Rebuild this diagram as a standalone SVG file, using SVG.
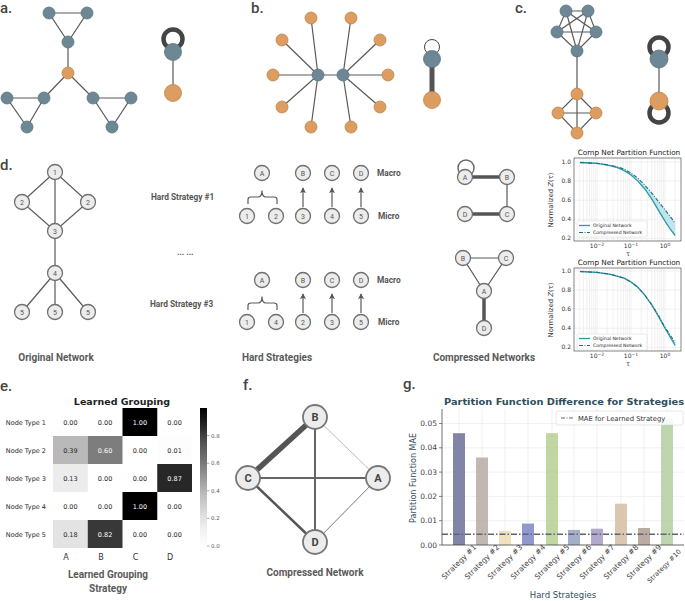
<svg xmlns="http://www.w3.org/2000/svg" width="685" height="601" viewBox="0 0 685 601">
<style>
.lbl{font-family:Roboto,"Liberation Sans",sans-serif;font-size:15px;font-weight:500;fill:#444}
.e{stroke:#5a5a5a;stroke-width:1.2;fill:none}
.bn{fill:#6d8894;stroke:#5a7480;stroke-width:0.8}
.on{fill:#dd9c60;stroke:#c0834a;stroke-width:0.8}
.gn{fill:#ececec;stroke:#707070;stroke-width:1.3}
.gt{font-family:Roboto,"Liberation Sans",sans-serif;font-size:7px;fill:#555;text-anchor:middle}
.cap{font-family:Roboto,"Liberation Sans",sans-serif;font-size:10px;font-weight:bold;fill:#5a5a5a;text-anchor:middle}
.hs{font-family:Roboto,"Liberation Sans",sans-serif;font-size:8.3px;font-weight:bold;fill:#555}
.tk{font-family:"DejaVu Sans",sans-serif;font-size:6px;fill:#333}
.grid{stroke:#e2e2e2;stroke-width:0.5}
.hm{font-family:"DejaVu Sans",sans-serif;font-size:6.5px;text-anchor:middle}
.gtk{font-family:"DejaVu Sans",sans-serif;font-size:7.5px;fill:#444}
</style>
<defs>
<marker id="ah" viewBox="0 0 8 8" refX="7" refY="4" markerWidth="6" markerHeight="6" markerUnits="userSpaceOnUse" orient="auto"><path d="M0,0 L8,4 L0,8 L2,4 z" fill="#555"/></marker>
<linearGradient id="cb" x1="0" y1="0" x2="0" y2="1">
<stop offset="0" stop-color="#000"/><stop offset="0.125" stop-color="#252525"/><stop offset="0.25" stop-color="#525252"/><stop offset="0.375" stop-color="#737373"/><stop offset="0.5" stop-color="#969696"/><stop offset="0.625" stop-color="#bdbdbd"/><stop offset="0.75" stop-color="#d9d9d9"/><stop offset="0.875" stop-color="#f0f0f0"/><stop offset="1" stop-color="#fff"/>
</linearGradient>
<clipPath id="c1"><rect x="574" y="158" width="107" height="83"/></clipPath>
<clipPath id="c2"><rect x="574" y="268" width="107" height="83"/></clipPath>
</defs>
<rect width="685" height="601" fill="#fff"/>

<!-- panel labels -->
<text class="lbl" x="0" y="13">a.</text>
<text class="lbl" x="251" y="13">b.</text>
<text class="lbl" x="515" y="13">c.</text>
<text class="lbl" x="0" y="170">d.</text>
<text class="lbl" x="0" y="391">e.</text>
<text class="lbl" x="243" y="390">f.</text>
<text class="lbl" x="403" y="389">g.</text>

<!-- Panel a -->
<g id="connectors-a">
<path class="e" d="M49,13 L87,13 L68,42 Z M68,42 L68,73 M68,73 L44,98 M68,73 L93,98 M7,98 L44,98 L27,127 Z M93,98 L131,98 L112,127 Z"/>
<line x1="173" y1="52" x2="173" y2="93" stroke="#5a5a5a" stroke-width="1.2"/>
<circle cx="173" cy="39" r="9.5" fill="none" stroke="#444" stroke-width="4.5"/>
</g>
<g id="a-nodes">
<circle class="bn" cx="49" cy="13" r="6"/><circle class="bn" cx="87" cy="13" r="6"/><circle class="bn" cx="68" cy="42" r="6"/>
<circle class="on" cx="68" cy="73" r="6"/>
<circle class="bn" cx="7" cy="98" r="6"/><circle class="bn" cx="44" cy="98" r="6"/><circle class="bn" cx="27" cy="127" r="6"/>
<circle class="bn" cx="93" cy="98" r="6"/><circle class="bn" cx="131" cy="98" r="6"/><circle class="bn" cx="112" cy="127" r="6"/>
<circle class="bn" cx="173" cy="52" r="8.5"/><circle class="on" cx="173" cy="93" r="8.5"/>
</g>

<!-- Panel b -->
<g id="connectors-b">
<path class="e" d="M318,75 L343,75 M318,75 L311,18 M318,75 L282,40 M318,75 L273,75 M318,75 L282,107 M318,75 L311,127 M343,75 L351,18 M343,75 L380,40 M343,75 L388,75 M343,75 L380,107 M343,75 L351,127"/>
<line x1="432" y1="59" x2="432" y2="100" stroke="#555" stroke-width="5"/>
<circle cx="432" cy="47" r="7.5" fill="none" stroke="#444" stroke-width="1"/>
</g>
<g id="b-nodes">
<circle class="bn" cx="318" cy="75" r="6"/><circle class="bn" cx="343" cy="75" r="6"/>
<circle class="on" cx="311" cy="18" r="6"/><circle class="on" cx="351" cy="18" r="6"/>
<circle class="on" cx="282" cy="40" r="6"/><circle class="on" cx="380" cy="40" r="6"/>
<circle class="on" cx="273" cy="75" r="6"/><circle class="on" cx="388" cy="75" r="6"/>
<circle class="on" cx="282" cy="107" r="6"/><circle class="on" cx="380" cy="107" r="6"/>
<circle class="on" cx="311" cy="127" r="6"/><circle class="on" cx="351" cy="127" r="6"/>
<circle class="bn" cx="432" cy="59" r="8.5"/><circle class="on" cx="432" cy="100" r="8.5"/>
</g>

<!-- Panel c -->
<g id="connectors-c">
<path class="e" d="M566,11 L588,11 L596,32 L577,51 L557,32 Z M566,11 L596,32 L557,32 L588,11 L577,51 L566,11 M577,51 L577,94 M577,94 L596,113 L577,133 L558,113 Z M577,94 L577,133 M558,113 L596,113"/>
<line x1="659" y1="59" x2="659" y2="101" stroke="#5a5a5a" stroke-width="1.2"/>
<circle cx="659" cy="47" r="9.5" fill="none" stroke="#444" stroke-width="4.5"/>
<circle cx="659" cy="113" r="9.5" fill="none" stroke="#444" stroke-width="4.5"/>
</g>
<g id="c-nodes">
<circle class="bn" cx="566" cy="11" r="6"/><circle class="bn" cx="588" cy="11" r="6"/><circle class="bn" cx="557" cy="32" r="6"/><circle class="bn" cx="596" cy="32" r="6"/><circle class="bn" cx="577" cy="51" r="6"/>
<circle class="on" cx="577" cy="94" r="6"/><circle class="on" cx="558" cy="113" r="6"/><circle class="on" cx="596" cy="113" r="6"/><circle class="on" cx="577" cy="133" r="6"/>
<circle class="bn" cx="659" cy="59" r="9"/><circle class="on" cx="659" cy="101" r="9"/>
</g>

<!-- Panel d -->
<g id="connectors-d">
<path class="e" d="M55,172 L22,202 L55,231 L88,202 Z M55,172 L55,231 L55,273 M55,273 L22,312 M55,273 L55,312 M55,273 L88,312"/>
<path class="e" d="M248,204 V199.5 Q248,197 251,197 H258 Q262,197 262,190.5 Q262,197 266,197 H274 Q277,197 277,199.5 V204"/>
<path class="e" d="M248,310 V305.5 Q248,303 251,303 H258 Q262,303 262,296.5 Q262,303 266,303 H274 Q277,303 277,305.5 V310"/>
<line class="e" x1="303" y1="207" x2="303" y2="188" marker-end="url(#ah)"/>
<line class="e" x1="332" y1="207" x2="332" y2="188" marker-end="url(#ah)"/>
<line class="e" x1="361" y1="207" x2="361" y2="188" marker-end="url(#ah)"/>
<line class="e" x1="303" y1="313" x2="303" y2="294" marker-end="url(#ah)"/>
<line class="e" x1="332" y1="313" x2="332" y2="294" marker-end="url(#ah)"/>
<line class="e" x1="361" y1="313" x2="361" y2="294" marker-end="url(#ah)"/>
<path d="M465,177 H507 M465,214 H507" stroke="#555" stroke-width="3.5"/>
<path class="e" d="M507,177 V214" stroke-width="1.8"/>
<circle cx="466" cy="168" r="8" fill="none" stroke="#666" stroke-width="1.4"/>
<path class="e" d="M463,258 H506 L484,291 Z" stroke-width="1.5"/>
<line x1="484" y1="291" x2="484" y2="328" stroke="#555" stroke-width="3.5"/>
</g>
<g id="d-original">
<circle class="gn" cx="55" cy="172" r="7.5"/><text class="gt" x="55" y="174.5">1</text>
<circle class="gn" cx="22" cy="202" r="7.5"/><text class="gt" x="22" y="204.5">2</text>
<circle class="gn" cx="88" cy="202" r="7.5"/><text class="gt" x="88" y="204.5">2</text>
<circle class="gn" cx="55" cy="231" r="7.5"/><text class="gt" x="55" y="233.5">3</text>
<circle class="gn" cx="55" cy="273" r="7.5"/><text class="gt" x="55" y="275.5">4</text>
<circle class="gn" cx="22" cy="312" r="7.5"/><text class="gt" x="22" y="314.5">5</text>
<circle class="gn" cx="55" cy="312" r="7.5"/><text class="gt" x="55" y="314.5">5</text>
<circle class="gn" cx="88" cy="312" r="7.5"/><text class="gt" x="88" y="314.5">5</text>
<text class="cap" x="56" y="361">Original Network</text>
</g>
<g id="d-strategies">
<text class="hs" x="151" y="200">Hard Strategy #1</text>
<text class="hs" x="177" y="255" font-size="6">... ...</text>
<text class="hs" x="150" y="307">Hard Strategy #3</text>
<circle class="gn" cx="262" cy="173" r="7.5"/><text class="gt" x="262" y="175.5">A</text>
<circle class="gn" cx="303" cy="173" r="7.5"/><text class="gt" x="303" y="175.5">B</text>
<circle class="gn" cx="332" cy="173" r="7.5"/><text class="gt" x="332" y="175.5">C</text>
<circle class="gn" cx="361" cy="173" r="7.5"/><text class="gt" x="361" y="175.5">D</text>
<text class="hs" x="377" y="176">Macro</text>
<circle class="gn" cx="247" cy="216" r="7.5"/><text class="gt" x="247" y="218.5">1</text>
<circle class="gn" cx="276" cy="216" r="7.5"/><text class="gt" x="276" y="218.5">2</text>
<circle class="gn" cx="303" cy="216" r="7.5"/><text class="gt" x="303" y="218.5">3</text>
<circle class="gn" cx="332" cy="216" r="7.5"/><text class="gt" x="332" y="218.5">4</text>
<circle class="gn" cx="361" cy="216" r="7.5"/><text class="gt" x="361" y="218.5">5</text>
<text class="hs" x="378" y="219">Micro</text>
<circle class="gn" cx="262" cy="280" r="7.5"/><text class="gt" x="262" y="282.5">A</text>
<circle class="gn" cx="303" cy="280" r="7.5"/><text class="gt" x="303" y="282.5">B</text>
<circle class="gn" cx="332" cy="280" r="7.5"/><text class="gt" x="332" y="282.5">C</text>
<circle class="gn" cx="361" cy="280" r="7.5"/><text class="gt" x="361" y="282.5">D</text>
<text class="hs" x="377" y="283">Macro</text>
<circle class="gn" cx="247" cy="322" r="7.5"/><text class="gt" x="247" y="324.5">1</text>
<circle class="gn" cx="276" cy="322" r="7.5"/><text class="gt" x="276" y="324.5">4</text>
<circle class="gn" cx="303" cy="322" r="7.5"/><text class="gt" x="303" y="324.5">2</text>
<circle class="gn" cx="332" cy="322" r="7.5"/><text class="gt" x="332" y="324.5">3</text>
<circle class="gn" cx="361" cy="322" r="7.5"/><text class="gt" x="361" y="324.5">5</text>
<text class="hs" x="378" y="325">Micro</text>
<text class="cap" x="277" y="361">Hard Strategies</text>
</g>
<g id="d-compressed">
<circle class="gn" cx="465" cy="177" r="7.5"/><text class="gt" x="465" y="179.5">A</text>
<circle class="gn" cx="507" cy="177" r="7.5"/><text class="gt" x="507" y="179.5">B</text>
<circle class="gn" cx="465" cy="214" r="7.5"/><text class="gt" x="465" y="216.5">D</text>
<circle class="gn" cx="507" cy="214" r="7.5"/><text class="gt" x="507" y="216.5">C</text>
<circle class="gn" cx="463" cy="258" r="7.5"/><text class="gt" x="463" y="260.5">B</text>
<circle class="gn" cx="506" cy="258" r="7.5"/><text class="gt" x="506" y="260.5">C</text>
<circle class="gn" cx="484" cy="291" r="7.5"/><text class="gt" x="484" y="293.5">A</text>
<circle class="gn" cx="484" cy="328" r="7.5"/><text class="gt" x="484" y="330.5">D</text>
<text class="cap" x="484" y="361">Compressed Networks</text>
</g>

<!-- Plot 1 -->
<g id="plot1">
<text x="629" y="155" font-family="DejaVu Sans,sans-serif" font-size="7.3" fill="#222" text-anchor="middle">Comp Net Partition Function</text>
<g clip-path="url(#c1)">
<path class="grid" d="M579.2,158V241M583.5,158V241M586.8,158V241M589.5,158V241M591.7,158V241M593.7,158V241M595.4,158V241M597,158V241M607.2,158V241M613.2,158V241M617.5,158V241M620.8,158V241M623.5,158V241M625.7,158V241M627.7,158V241M629.4,158V241M631,158V241M641.2,158V241M647.2,158V241M651.5,158V241M654.8,158V241M657.5,158V241M659.7,158V241M661.7,158V241M663.4,158V241M665,158V241M675.2,158V241M574,162H681M574,181.1H681M574,200.2H681M574,219.3H681M574,238.4H681"/>
<path d="M580,162.5 L597,163.4 L610.6,165.3 L617.4,166.8 L624.2,169.2 L631,173 L637.8,178.2 L644.6,184.9 L651.4,192.6 L658.2,201.2 L665,209.8 L670.1,216.4 L675.2,223.1 L675.2,235.5 L670.1,228.9 L665,221.2 L658.2,209.8 L651.4,198.3 L644.6,188.7 L637.8,181.1 L631,174.9 L624.2,170.6 L617.4,167.7 L610.6,165.8 L603.8,164.4 L597,163.4 Z" fill="#a6dce6" opacity="0.7"/>
<polyline fill="none" stroke="#2a9aa8" stroke-width="1.3" points="580,162.5 590.2,163 597,163.4 603.8,164.4 610.6,165.8 617.4,167.7 624.2,170.6 631,174.9 637.8,181.1 644.6,188.7 651.4,198.3 658.2,209.8 665,221.2 670.1,228.9 675.2,235.5"/>
<polyline fill="none" stroke="#1d6f7c" stroke-width="1.1" stroke-dasharray="4,1.5,1,1.5" points="580,162.5 597,163.4 610.6,165.3 617.4,166.8 624.2,169.2 631,173 637.8,178.2 644.6,184.9 651.4,192.6 658.2,201.2 665,209.8 670.1,216.4 675.2,223.1"/>
</g>
<rect x="574" y="158" width="107" height="83" fill="none" stroke="#333" stroke-width="0.6"/>
<g class="tk" text-anchor="end">
<text x="571" y="164">1.0</text><text x="571" y="183.1">0.8</text><text x="571" y="202.2">0.6</text><text x="571" y="221.3">0.4</text><text x="571" y="240.4">0.2</text>
</g>
<g class="tk" text-anchor="middle">
<text x="597" y="248">10<tspan font-size="4.5" dy="-2.5">−2</tspan></text>
<text x="631" y="248">10<tspan font-size="4.5" dy="-2.5">−1</tspan></text>
<text x="665" y="248">10<tspan font-size="4.5" dy="-2.5">0</tspan></text>
<text x="628" y="256" font-size="6.5">τ</text>
</g>
<text transform="translate(553,200) rotate(-90)" font-family="DejaVu Sans,sans-serif" font-size="6.8" fill="#333" text-anchor="middle">Normalized <tspan font-style="italic">Z</tspan>(τ)</text>
<rect x="577" y="221" width="70" height="16" fill="#fff" fill-opacity="0.85" stroke="#ccc" stroke-width="0.4" rx="1"/>
<line x1="579" y1="225.5" x2="590" y2="225.5" stroke="#2a9aa8" stroke-width="1.3"/>
<line x1="579" y1="232.5" x2="590" y2="232.5" stroke="#1d6f7c" stroke-width="1.1" stroke-dasharray="4,1.5,1,1.5"/>
<text x="593" y="227" font-family="DejaVu Sans,sans-serif" font-size="4.6" fill="#222">Original Network</text>
<text x="593" y="234" font-family="DejaVu Sans,sans-serif" font-size="4.6" fill="#222">Compressed Network</text>
</g>

<!-- Plot 2 -->
<g id="plot2">
<text x="629" y="265" font-family="DejaVu Sans,sans-serif" font-size="7.3" fill="#222" text-anchor="middle">Comp Net Partition Function</text>
<g clip-path="url(#c2)">
<path class="grid" d="M579.2,268V351M583.5,268V351M586.8,268V351M589.5,268V351M591.7,268V351M593.7,268V351M595.4,268V351M597,268V351M607.2,268V351M613.2,268V351M617.5,268V351M620.8,268V351M623.5,268V351M625.7,268V351M627.7,268V351M629.4,268V351M631,268V351M641.2,268V351M647.2,268V351M651.5,268V351M654.8,268V351M657.5,268V351M659.7,268V351M661.7,268V351M663.4,268V351M665,268V351M675.2,268V351M574,271H681M574,290.1H681M574,309.2H681M574,328.3H681M574,347.4H681"/>
<path d="M658.2,315 L665,327.3 L670.1,335 L675.2,342.6 L675.2,345.5 L670.1,336.9 L665,328.3 L658.2,315.9 Z" fill="#a6dce6" opacity="0.7"/>
<polyline fill="none" stroke="#2a9aa8" stroke-width="1.3" points="580,271.5 597,272.4 610.6,274.3 624.2,278.2 631,282 637.8,287.2 644.6,294.9 651.4,304.4 658.2,315.9 665,328.3 670.1,336.9 675.2,345.5"/>
<polyline fill="none" stroke="#1d6f7c" stroke-width="1.1" stroke-dasharray="4,1.5,1,1.5" points="580,271.5 597,272.4 610.6,274.3 624.2,278.2 631,282 637.8,287.2 644.6,294.9 651.4,304.2 658.2,315 665,327.3 670.1,335 675.2,342.6"/>
</g>
<rect x="574" y="268" width="107" height="83" fill="none" stroke="#333" stroke-width="0.6"/>
<g class="tk" text-anchor="end">
<text x="571" y="273">1.0</text><text x="571" y="292.1">0.8</text><text x="571" y="311.2">0.6</text><text x="571" y="330.3">0.4</text><text x="571" y="349.4">0.2</text>
</g>
<g class="tk" text-anchor="middle">
<text x="597" y="358">10<tspan font-size="4.5" dy="-2.5">−2</tspan></text>
<text x="631" y="358">10<tspan font-size="4.5" dy="-2.5">−1</tspan></text>
<text x="665" y="358">10<tspan font-size="4.5" dy="-2.5">0</tspan></text>
<text x="628" y="366" font-size="6.5">τ</text>
</g>
<text transform="translate(553,310) rotate(-90)" font-family="DejaVu Sans,sans-serif" font-size="6.8" fill="#333" text-anchor="middle">Normalized <tspan font-style="italic">Z</tspan>(τ)</text>
<rect x="577" y="334" width="70" height="16" fill="#fff" fill-opacity="0.85" stroke="#ccc" stroke-width="0.4" rx="1"/>
<line x1="579" y1="338.5" x2="590" y2="338.5" stroke="#2a9aa8" stroke-width="1.3"/>
<line x1="579" y1="345.5" x2="590" y2="345.5" stroke="#1d6f7c" stroke-width="1.1" stroke-dasharray="4,1.5,1,1.5"/>
<text x="593" y="340" font-family="DejaVu Sans,sans-serif" font-size="4.6" fill="#222">Original Network</text>
<text x="593" y="347" font-family="DejaVu Sans,sans-serif" font-size="4.6" fill="#222">Compressed Network</text>
</g>

<!-- Panel e heatmap -->
<g id="heatmap">
<text x="122" y="405" font-family="DejaVu Sans,sans-serif" font-size="9.5" font-weight="bold" fill="#222" text-anchor="middle">Learned Grouping</text>
<rect x="53" y="408" width="139" height="140" fill="#fff"/>
<rect x="122.5" y="408" width="34.75" height="28" fill="#000"/>
<rect x="53" y="436" width="34.75" height="28" fill="#b9b9b9"/>
<rect x="87.75" y="436" width="34.75" height="28" fill="#7d7d7d"/>
<rect x="157.25" y="436" width="34.75" height="28" fill="#fdfdfd"/>
<rect x="53" y="464" width="34.75" height="28" fill="#ececec"/>
<rect x="157.25" y="464" width="34.75" height="28" fill="#272727"/>
<rect x="122.5" y="492" width="34.75" height="28" fill="#000"/>
<rect x="53" y="520" width="34.75" height="28" fill="#e3e3e3"/>
<rect x="87.75" y="520" width="34.75" height="28" fill="#383838"/>
<g class="hm" fill="#262626">
<text x="70.4" y="424.5">0.00</text><text x="105.1" y="424.5">0.00</text><text x="139.9" y="424.5" fill="#fff">1.00</text><text x="174.6" y="424.5">0.00</text>
<text x="70.4" y="452.5">0.39</text><text x="105.1" y="452.5" fill="#fff">0.60</text><text x="139.9" y="452.5">0.00</text><text x="174.6" y="452.5">0.01</text>
<text x="70.4" y="480.5">0.13</text><text x="105.1" y="480.5">0.00</text><text x="139.9" y="480.5">0.00</text><text x="174.6" y="480.5" fill="#fff">0.87</text>
<text x="70.4" y="508.5">0.00</text><text x="105.1" y="508.5">0.00</text><text x="139.9" y="508.5" fill="#fff">1.00</text><text x="174.6" y="508.5">0.00</text>
<text x="70.4" y="536.5">0.18</text><text x="105.1" y="536.5" fill="#fff">0.82</text><text x="139.9" y="536.5">0.00</text><text x="174.6" y="536.5">0.00</text>
</g>
<g font-family="DejaVu Sans,sans-serif" font-size="6.5" fill="#262626" text-anchor="end">
<text x="46" y="424.5">Node Type 1</text><text x="46" y="452.5">Node Type 2</text><text x="46" y="480.5">Node Type 3</text><text x="46" y="508.5">Node Type 4</text><text x="46" y="536.5">Node Type 5</text>
</g>
<g font-family="DejaVu Sans,sans-serif" font-size="8" fill="#333" text-anchor="middle">
<text x="66" y="560">A</text><text x="101" y="560">B</text><text x="135.5" y="560">C</text><text x="170" y="560">D</text>
</g>
<text class="cap" x="108" y="578">Learned Grouping</text>
<text class="cap" x="108" y="592">Strategy</text>
<rect x="200" y="408" width="7" height="138" fill="url(#cb)"/>
<path d="M207,435.6h2.5M207,463.2h2.5M207,490.8h2.5M207,518.4h2.5M207,546h2.5" stroke="#555" stroke-width="0.5"/>
<g font-family="DejaVu Sans,sans-serif" font-size="5.5" fill="#555">
<text x="211" y="437.6">0.8</text><text x="211" y="465.2">0.6</text><text x="211" y="492.8">0.4</text><text x="211" y="520.4">0.2</text><text x="211" y="548">0.0</text>
</g>
</g>

<!-- Panel f -->
<g id="connectors-f">
<line x1="315" y1="417" x2="248" y2="478" stroke="#555" stroke-width="5.5"/>
<line x1="315" y1="417" x2="315" y2="542" stroke="#666" stroke-width="2"/>
<line x1="315" y1="417" x2="378" y2="478" stroke="#aaa" stroke-width="0.8"/>
<line x1="248" y1="478" x2="378" y2="478" stroke="#666" stroke-width="2.2"/>
<line x1="248" y1="478" x2="315" y2="542" stroke="#555" stroke-width="2.5"/>
<line x1="315" y1="542" x2="378" y2="478" stroke="#777" stroke-width="1"/>
</g>
<g id="f-nodes" font-family="Roboto,'Liberation Sans',sans-serif" font-size="11" font-weight="bold" fill="#444" text-anchor="middle">
<circle cx="315" cy="417" r="12" fill="#ececec" stroke="#777" stroke-width="1.8"/><text x="315" y="421">B</text>
<circle cx="248" cy="478" r="12" fill="#ececec" stroke="#777" stroke-width="1.8"/><text x="248" y="482">C</text>
<circle cx="378" cy="478" r="12" fill="#ececec" stroke="#777" stroke-width="1.8"/><text x="378" y="482">A</text>
<circle cx="315" cy="542" r="12" fill="#ececec" stroke="#777" stroke-width="1.8"/><text x="315" y="546">D</text>
<text class="cap" x="315" y="576">Compressed Network</text>
</g>

<!-- Panel g -->
<g id="barchart">
<text x="564" y="405" font-family="DejaVu Sans,sans-serif" font-size="9.2" font-weight="bold" fill="#2f4f5c" text-anchor="middle" textLength="240" lengthAdjust="spacingAndGlyphs">Partition Function Difference for Strategies</text>
<path class="grid" d="M442,545H684M442,520.7H684M442,496.4H684M442,472.1H684M442,447.8H684M442,423.5H684M459,409V545M482,409V545M505,409V545M528,409V545M552,409V545M574,409V545M597,409V545M621,409V545M644,409V545M667,409V545"/>
<g opacity="0.85">
<rect x="453" y="433.2" width="12" height="111.8" fill="#6e7099"/>
<rect x="476" y="457.5" width="12" height="87.5" fill="#b7aca6"/>
<rect x="499" y="530.9" width="12" height="14.1" fill="#ecdfb3"/>
<rect x="522" y="523.6" width="12" height="21.4" fill="#7d87c6"/>
<rect x="546" y="433.2" width="12" height="111.8" fill="#b7d093"/>
<rect x="568" y="529.9" width="12" height="15.1" fill="#95a2c0"/>
<rect x="591" y="528.7" width="12" height="16.3" fill="#a49cc4"/>
<rect x="615" y="503.7" width="12" height="41.3" fill="#d7bfa3"/>
<rect x="638" y="528" width="12" height="17" fill="#b09d90"/>
<rect x="661" y="419" width="12" height="126" fill="#b3cfa0"/>
</g>
<line x1="442" y1="534.3" x2="684" y2="534.3" stroke="#5d6475" stroke-width="1.4" stroke-dasharray="6,2,1.5,2"/>
<path d="M442,409V545H684" fill="none" stroke="#333" stroke-width="0.7"/>
<path d="M439,545h3M439,520.7h3M439,496.4h3M439,472.1h3M439,447.8h3M439,423.5h3" stroke="#333" stroke-width="0.6"/>
<g class="gtk" text-anchor="end">
<text x="437" y="547.5">0.00</text><text x="437" y="523.2">0.01</text><text x="437" y="498.9">0.02</text><text x="437" y="474.6">0.03</text><text x="437" y="450.3">0.04</text><text x="437" y="426">0.05</text>
</g>
<text transform="translate(416,478) rotate(-90)" font-family="DejaVu Sans,sans-serif" font-size="8" fill="#2f4f5c" text-anchor="middle">Partition Function MAE</text>
<rect x="556" y="411" width="127" height="14" fill="#fff" fill-opacity="0.85" stroke="#ccc" stroke-width="0.5" rx="1.5"/>
<line x1="561" y1="418" x2="573" y2="418" stroke="#5d6475" stroke-width="1.2" stroke-dasharray="4,1.5,1,1.5"/>
<text x="578" y="420.5" font-family="DejaVu Sans,sans-serif" font-size="6.8" fill="#333">MAE for Learned Strategy</text>
<g class="gtk" font-size="7" text-anchor="middle">
<text transform="translate(459,562) rotate(-45)" dy="2.5">Strategy #1</text>
<text transform="translate(482,562) rotate(-45)" dy="2.5">Strategy #2</text>
<text transform="translate(505,562) rotate(-45)" dy="2.5">Strategy #3</text>
<text transform="translate(528,562) rotate(-45)" dy="2.5">Strategy #4</text>
<text transform="translate(552,562) rotate(-45)" dy="2.5">Strategy #5</text>
<text transform="translate(574,562) rotate(-45)" dy="2.5">Strategy #6</text>
<text transform="translate(597,562) rotate(-45)" dy="2.5">Strategy #7</text>
<text transform="translate(621,562) rotate(-45)" dy="2.5">Strategy #8</text>
<text transform="translate(644,562) rotate(-45)" dy="2.5">Strategy #9</text>
<text transform="translate(664,566) rotate(-45)" dy="2.5" font-size="6.6">Strategy #10</text>
</g>
<text x="563" y="598" font-family="DejaVu Sans,sans-serif" font-size="8.5" fill="#2f4f5c" text-anchor="middle">Hard Strategies</text>
</g>
</svg>
